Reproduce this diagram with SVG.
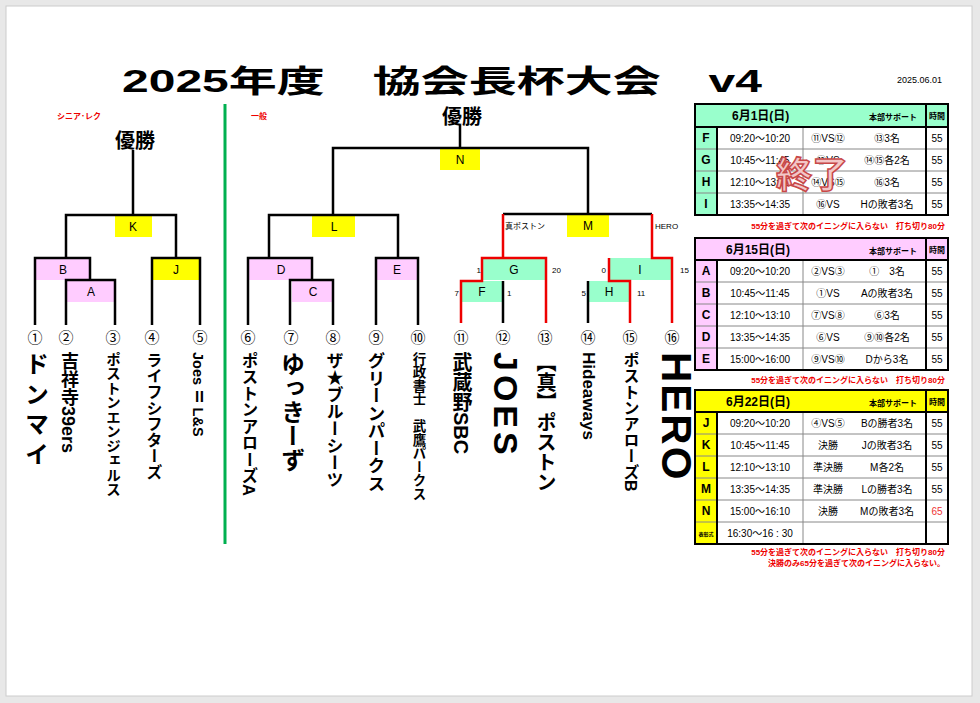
<svg xmlns="http://www.w3.org/2000/svg" width="980" height="703" viewBox="0 0 980 703">
<style>
text{font-family:"Liberation Sans","Noto Sans CJK JP",sans-serif;fill:#000}
.ln{stroke:#000;stroke-width:2.5;fill:none}
.rd{stroke:#e00;stroke-width:2.5;fill:none}
.bx{font-size:12px;text-anchor:middle}
.num{font-size:15px;text-anchor:middle}
.v{writing-mode:tb;font-weight:bold}
.sm{font-size:8px}
.red{fill:#e00;font-weight:bold;font-size:8px}
.cell{font-size:10px;text-anchor:middle}
.lt{font-size:12px;font-weight:bold;text-anchor:middle}
.hd{font-size:12px;font-weight:bold}
.tb{fill:#fff;stroke:#999;stroke-width:1}
</style>
<rect x="0" y="0" width="980" height="703" fill="#e8e8e8"/>
<rect x="6" y="6" width="966" height="690" fill="#fff" stroke="#ccc"/>
<text x="122" y="92" font-size="31" font-weight="bold" textLength="640" lengthAdjust="spacingAndGlyphs">2025年度　協会長杯大会　v4</text>
<text x="897" y="83" font-size="9">2025.06.01</text>
<text x="57" y="119" class="red" font-size="9">シニア･レク</text>
<text x="251" y="119" class="red" font-size="9">一般</text>
<line x1="225" y1="104" x2="225" y2="544" stroke="#00b050" stroke-width="3"/>
<text x="135" y="148" font-size="20" font-weight="bold" text-anchor="middle">優勝</text>
<text x="462" y="124" font-size="20" font-weight="bold" text-anchor="middle">優勝</text>
<g id="boxes">
<rect x="115" y="215" width="37" height="22" fill="#ff0"/>
<rect x="36" y="258" width="54" height="22" fill="#fcf"/>
<rect x="67" y="280" width="47" height="22" fill="#fcf"/>
<rect x="153" y="258" width="46" height="22" fill="#ff0"/>
<rect x="440" y="148" width="40" height="22" fill="#ff0"/>
<rect x="312" y="215" width="43" height="22" fill="#ff0"/>
<rect x="567" y="214" width="42" height="23" fill="#ff0"/>
<rect x="249" y="258" width="63" height="22" fill="#fcf"/>
<rect x="292" y="280" width="41" height="22" fill="#fcf"/>
<rect x="377" y="258" width="40" height="22" fill="#fcf"/>
<rect x="482" y="258" width="64" height="22" fill="#9fc"/>
<rect x="461" y="281" width="42" height="21" fill="#9fc"/>
<rect x="609" y="258" width="63" height="22" fill="#9fc"/>
<rect x="588" y="281" width="42" height="21" fill="#9fc"/>
</g>
<g id="connectors">
<path class="ln" d="M133 150V215M66 258V215H176V258M35 325V258H90V280M66 325V280H115V325M152 325V258H200V325"/>
<path class="ln" d="M460 125V148M333 215V148H588V214M269 258V215H398V258M248 325V258H312V280M290 325V280H333V325M376 325V258H418V325"/>
<path class="ln" d="M503 214H652M503 323V281M588 323V281"/>
<path class="rd" d="M503 214V258H546V323M503 258H482V281H461V323M652 214V258H672V323M609 258V281H630V323"/>
</g>
<g id="labels">
<text x="133" y="231" class="bx">K</text><text x="63" y="274" class="bx">B</text><text x="91" y="296" class="bx">A</text><text x="176" y="274" class="bx">J</text>
<text x="460" y="164" class="bx">N</text><text x="334" y="231" class="bx">L</text><text x="588" y="230" class="bx">M</text>
<text x="281" y="274" class="bx">D</text><text x="313" y="296" class="bx">C</text><text x="397" y="274" class="bx">E</text>
<text x="514" y="274" class="bx">G</text><text x="482" y="296" class="bx">F</text><text x="640" y="274" class="bx">I</text><text x="609" y="296" class="bx">H</text>
<text x="505" y="229" class="sm">真ポストン</text><text x="655" y="229" class="sm">HERO</text>
<text x="481" y="273" class="sm" text-anchor="end">1</text><text x="552" y="273" class="sm">20</text>
<text x="459" y="296" class="sm" text-anchor="end">7</text><text x="507" y="296" class="sm">1</text>
<text x="606" y="273" class="sm" text-anchor="end">0</text><text x="680" y="273" class="sm">15</text>
<text x="586" y="296" class="sm" text-anchor="end">5</text><text x="637" y="296" class="sm">11</text>
</g>
<g id="numbers">
<text x="35" y="343" class="num">①</text><text x="66" y="343" class="num">②</text><text x="113" y="343" class="num">③</text><text x="152" y="343" class="num">④</text><text x="200" y="343" class="num">⑤</text>
<text x="248" y="343" class="num">⑥</text><text x="291" y="343" class="num">⑦</text><text x="333" y="343" class="num">⑧</text><text x="376" y="343" class="num">⑨</text><text x="418" y="343" class="num">⑩</text>
<text x="461" y="343" class="num">⑪</text><text x="503" y="343" class="num">⑫</text><text x="545" y="343" class="num">⑬</text><text x="588" y="343" class="num">⑭</text><text x="630" y="343" class="num">⑮</text><text x="672" y="343" class="num">⑯</text>
</g>
<g id="teams">
<text x="35" y="352" class="v" font-size="24" letter-spacing="6">ドンマイ</text>
<text x="68" y="352" class="v" font-size="18">吉祥寺39ers</text>
<text x="112" y="352" class="v" font-size="14.5">ポストンエンジェルス</text>
<text x="153" y="352" class="v" font-size="16">ライフシフターズ</text>
<text x="198" y="352" class="v" font-size="14.5">Joes Ⅱ  L&amp;S</text>
<text x="249" y="352" class="v" font-size="16.5">ポストンアローズA</text>
<text x="291" y="352" class="v" font-size="24">ゆっきーず</text>
<text x="333" y="352" class="v" font-size="17">ザ★ブルーシーツ</text>
<text x="375" y="352" class="v" font-size="17.5">グリーンパークス</text>
<text x="418" y="352" class="v" font-size="13.5">行政書士　武鷹パークス</text>
<text x="461" y="352" class="v" font-size="20">武蔵野SBC</text>
<text x="506" y="352" class="v" font-size="34" letter-spacing="4">JOES</text>
<text x="545" y="352" class="v" font-size="20">【真】ポストン</text>
<text x="588" y="352" class="v" font-size="17">Hideaways</text>
<text x="630" y="352" class="v" font-size="16">ポストンアローズB</text>
<text x="676" y="352" class="v" font-size="42" letter-spacing="2">HERO</text>
</g>
<g id="table1">
<rect x="695" y="104" width="253" height="23" fill="#9fc"/>
<rect x="695" y="127" width="22" height="88" fill="#9fc"/>
<rect x="717" y="127" width="209" height="88" class="tb"/>
<rect x="926" y="127" width="22" height="88" class="tb"/>
<path d="M695 149H948M695 171H948M695 193H948M803 127V215" stroke="#888" fill="none"/>
<path d="M695 104H948V215H695ZM695 127H948M717 127V215M926 104V215" stroke="#000" stroke-width="2" fill="none"/>
<text x="732" y="120" class="hd">6月1日(日)</text><text x="893" y="120" class="red" text-anchor="middle" style="fill:#000">本部サポート</text><text x="937" y="119" class="red" text-anchor="middle" style="fill:#000">時間</text>
<text x="706" y="142" class="lt">F</text><text x="760" y="142" class="cell">09:20～10:20</text><text x="828" y="142" class="cell">⑪VS⑫</text><text x="887" y="142" class="cell">⑬3名</text><text x="937" y="142" class="cell">55</text>
<text x="706" y="164" class="lt">G</text><text x="760" y="164" class="cell">10:45～11:45</text><text x="828" y="164" class="cell">⑬VS</text><text x="887" y="164" class="cell">⑭⑮各2名</text><text x="937" y="164" class="cell">55</text>
<text x="706" y="186" class="lt">H</text><text x="760" y="186" class="cell">12:10～13:10</text><text x="828" y="186" class="cell">⑭VS⑮</text><text x="887" y="186" class="cell">⑯3名</text><text x="937" y="186" class="cell">55</text>
<text x="706" y="208" class="lt">I</text><text x="760" y="208" class="cell">13:35～14:35</text><text x="828" y="208" class="cell">⑯VS</text><text x="887" y="208" class="cell">Hの敗者3名</text><text x="937" y="208" class="cell">55</text>
<text x="812" y="188" font-size="36" font-weight="bold" text-anchor="middle" style="fill:#f3c6c6;stroke:#c84848;stroke-width:1.5">終了</text>
<text x="945" y="229" class="red" text-anchor="end">55分を過ぎて次のイニングに入らない　打ち切り80分</text>
</g>
<g id="table2">
<rect x="695" y="238" width="253" height="22" fill="#fcf"/>
<rect x="695" y="260" width="22" height="110" fill="#fcf"/>
<rect x="717" y="260" width="209" height="110" class="tb"/>
<rect x="926" y="260" width="22" height="110" class="tb"/>
<path d="M695 282H948M695 304H948M695 326H948M695 348H948M803 260V370" stroke="#888" fill="none"/>
<path d="M695 238H948V370H695ZM695 260H948M717 260V370M926 238V370" stroke="#000" stroke-width="2" fill="none"/>
<text x="726" y="254" class="hd">6月15日(日)</text><text x="893" y="254" class="red" text-anchor="middle" style="fill:#000">本部サポート</text><text x="937" y="253" class="red" text-anchor="middle" style="fill:#000">時間</text>
<text x="706" y="275" class="lt">A</text><text x="760" y="275" class="cell">09:20～10:20</text><text x="828" y="275" class="cell">②VS③</text><text x="887" y="275" class="cell">①　3名</text><text x="937" y="275" class="cell">55</text>
<text x="706" y="297" class="lt">B</text><text x="760" y="297" class="cell">10:45～11:45</text><text x="828" y="297" class="cell">①VS</text><text x="887" y="297" class="cell">Aの敗者3名</text><text x="937" y="297" class="cell">55</text>
<text x="706" y="319" class="lt">C</text><text x="760" y="319" class="cell">12:10～13:10</text><text x="828" y="319" class="cell">⑦VS⑧</text><text x="887" y="319" class="cell">⑥3名</text><text x="937" y="319" class="cell">55</text>
<text x="706" y="341" class="lt">D</text><text x="760" y="341" class="cell">13:35～14:35</text><text x="828" y="341" class="cell">⑥VS</text><text x="887" y="341" class="cell">⑨⑩各2名</text><text x="937" y="341" class="cell">55</text>
<text x="706" y="363" class="lt">E</text><text x="760" y="363" class="cell">15:00～16:00</text><text x="828" y="363" class="cell">⑨VS⑩</text><text x="887" y="363" class="cell">Dから3名</text><text x="937" y="363" class="cell">55</text>
<text x="945" y="383" class="red" text-anchor="end">55分を過ぎて次のイニングに入らない　打ち切り80分</text>
</g>
<g id="table3">
<rect x="695" y="390" width="253" height="22" fill="#ff0"/>
<rect x="695" y="412" width="22" height="132" fill="#ff0"/>
<rect x="717" y="412" width="209" height="132" class="tb"/>
<rect x="926" y="412" width="22" height="132" class="tb"/>
<path d="M695 434H948M695 456H948M695 478H948M695 500H948M695 522H948M803 412V544" stroke="#888" fill="none"/>
<path d="M695 390H948V544H695ZM695 412H948M717 412V544M926 390V544" stroke="#000" stroke-width="2" fill="none"/>
<text x="726" y="406" class="hd">6月22日(日)</text><text x="893" y="406" class="red" text-anchor="middle" style="fill:#000">本部サポート</text><text x="937" y="405" class="red" text-anchor="middle" style="fill:#000">時間</text>
<text x="706" y="427" class="lt">J</text><text x="760" y="427" class="cell">09:20～10:20</text><text x="828" y="427" class="cell">④VS⑤</text><text x="887" y="427" class="cell">Bの勝者3名</text><text x="937" y="427" class="cell">55</text>
<text x="706" y="449" class="lt">K</text><text x="760" y="449" class="cell">10:45～11:45</text><text x="828" y="449" class="cell">決勝</text><text x="887" y="449" class="cell">Jの敗者3名</text><text x="937" y="449" class="cell">55</text>
<text x="706" y="471" class="lt">L</text><text x="760" y="471" class="cell">12:10～13:10</text><text x="828" y="471" class="cell">準決勝</text><text x="887" y="471" class="cell">M各2名</text><text x="937" y="471" class="cell">55</text>
<text x="706" y="493" class="lt">M</text><text x="760" y="493" class="cell">13:35～14:35</text><text x="828" y="493" class="cell">準決勝</text><text x="887" y="493" class="cell">Lの勝者3名</text><text x="937" y="493" class="cell">55</text>
<text x="706" y="515" class="lt">N</text><text x="760" y="515" class="cell">15:00～16:10</text><text x="828" y="515" class="cell">決勝</text><text x="887" y="515" class="cell">Mの敗者3名</text><text x="937" y="515" class="cell" style="fill:#e33">65</text>
<text x="706" y="536" font-size="5" font-weight="bold" text-anchor="middle">表彰式</text><text x="760" y="537" class="cell">16:30～16 : 30</text>
<text x="945" y="555" class="red" text-anchor="end">55分を過ぎて次のイニングに入らない　打ち切り80分</text>
<text x="945" y="566" class="red" text-anchor="end">決勝のみ65分を過ぎて次のイニングに入らない。</text>
</g>
</svg>
